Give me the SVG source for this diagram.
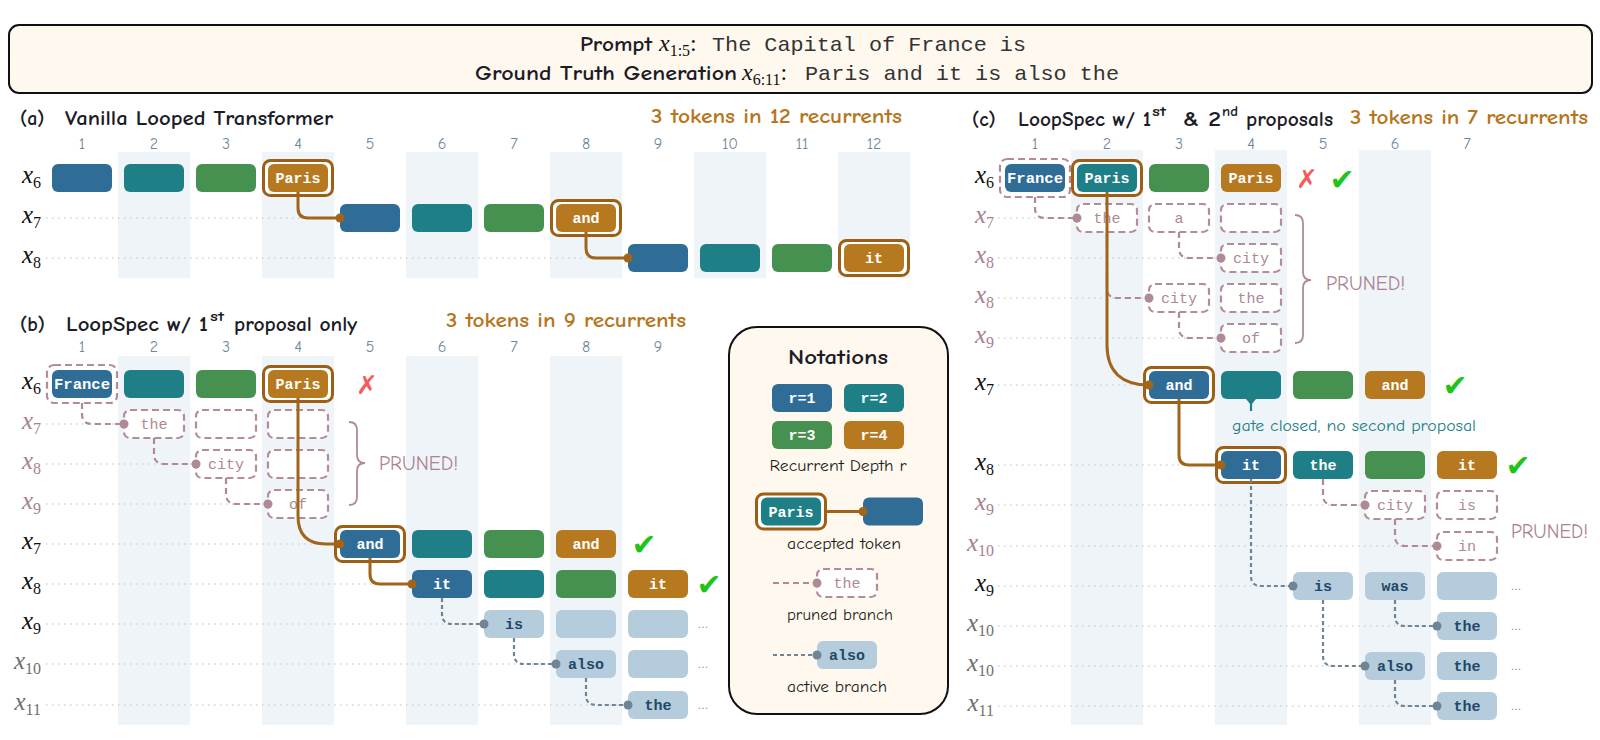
<svg xmlns="http://www.w3.org/2000/svg" width="1600" height="740" viewBox="0 0 1600 740">
<style>
.bg{fill:#fff}
.band{fill:#eff4f8}
.b1{fill:#2f6d97}.b2{fill:#1f7f86}.b3{fill:#46914f}.b4{fill:#b7791f}
.act{fill:#b4ccdb}
.acc{fill:#fff;stroke:#9c5f14;stroke-width:3}
.pr{fill:#fff;stroke:#b48c99;stroke-width:2.2;stroke-dasharray:7 4}
.cm{font-family:'Comic Sans MS','Comic Neue','Noto Sans',sans-serif}
.ttl{font-size:20px;font-weight:bold;fill:#1c1c28}
.sup{font-size:13px;font-weight:bold;fill:#1c1c28}
.org{font-size:20px;font-weight:bold;fill:#b5761d}
.num{font-size:16px;fill:#71889a;text-anchor:middle}
.tw{font-family:'Liberation Mono',monospace;font-weight:bold;font-size:15px;fill:#fff;text-anchor:middle}
.tp{font-family:'Liberation Mono',monospace;font-size:15px;fill:#ad8895;text-anchor:middle}
.ta{font-family:'Liberation Mono',monospace;font-weight:bold;font-size:15px;fill:#1f4868;text-anchor:middle}
.ml{font-family:'Liberation Serif',serif;font-style:italic;font-size:25px;text-anchor:end}
.sb{font-style:normal;font-size:16px}
.k{fill:#111}.m{fill:#a8818f}.g{fill:#6f6f6f}
.guide{stroke:#cdd5db;stroke-width:1.3;stroke-dasharray:1.5 4.5;fill:none}
.ca{fill:none;stroke:#a0651a;stroke-width:3}
.cp{fill:none;stroke:#b08996;stroke-width:2.2;stroke-dasharray:6 4}
.cv{fill:none;stroke:#6f8595;stroke-width:2.2;stroke-dasharray:4 3}
.da{fill:#a0651a}.dp{fill:#b08996}.dv{fill:#6f8595}
.brace{fill:none;stroke:#b08996;stroke-width:1.8}
.prn{font-size:20px;fill:#a9838f}
.ok{font-family:'DejaVu Sans',sans-serif;font-size:30px;fill:#1fc41a;text-anchor:middle}
.no{font-family:'DejaVu Sans',sans-serif;font-size:26px;fill:#f25c5c;text-anchor:middle}
.dots{font-family:'DejaVu Sans',sans-serif;font-size:11px;fill:#8899a6;text-anchor:middle}
.mono{font-family:'Liberation Mono',monospace;font-size:21px;fill:#333}
.nt{font-size:16px;fill:#1c1c1c;text-anchor:middle}
</style>
<rect class="bg" x="0" y="0" width="1600" height="740"/>

<!-- header -->
<g id="header">
<rect x="9" y="25" width="1583" height="68" rx="10" fill="#fff8ee" stroke="#111" stroke-width="2"/>
<text class="cm ttl" x="580" y="51" textLength="72" lengthAdjust="spacingAndGlyphs" fill="#111">Prompt</text>
<text font-family="'Liberation Serif',serif" font-size="24" fill="#111" x="659" y="51"><tspan font-style="italic">x</tspan><tspan font-size="16" dy="5">1:5</tspan><tspan dy="-5">:</tspan></text>
<text class="mono" x="712" y="51" textLength="314" lengthAdjust="spacingAndGlyphs">The Capital of France is</text>
<text class="cm ttl" x="475" y="80" textLength="262" lengthAdjust="spacingAndGlyphs" fill="#111">Ground Truth Generation</text>
<text font-family="'Liberation Serif',serif" font-size="24" fill="#111" x="742" y="80"><tspan font-style="italic">x</tspan><tspan font-size="16" dy="5">6:11</tspan><tspan dy="-5">:</tspan></text>
<text class="mono" x="805" y="80" textLength="314" lengthAdjust="spacingAndGlyphs">Paris and it is also the</text>
</g>

<!-- bands -->
<g id="bands">
<rect class="band" x="118" y="152" width="72" height="126"/>
<rect class="band" x="262" y="152" width="72" height="126"/>
<rect class="band" x="406" y="152" width="72" height="126"/>
<rect class="band" x="550" y="152" width="72" height="126"/>
<rect class="band" x="694" y="152" width="72" height="126"/>
<rect class="band" x="838" y="152" width="72" height="126"/>
<rect class="band" x="118" y="356" width="72" height="369"/>
<rect class="band" x="262" y="356" width="72" height="369"/>
<rect class="band" x="406" y="356" width="72" height="369"/>
<rect class="band" x="550" y="356" width="72" height="369"/>
<rect class="band" x="1071" y="150" width="72" height="575"/>
<rect class="band" x="1215" y="150" width="72" height="575"/>
<rect class="band" x="1359" y="150" width="72" height="575"/>
</g>

<!-- guides -->
<g id="guides">
<path class="guide" d="M46 218H338M46 258H626"/>
<path class="guide" d="M46 424H122M46 464H194M46 504H266M46 544H334M46 584H410M46 624H482M46 664H554M46 705H626"/>
<path class="guide" d="M998 218H1075M998 258H1219M998 298H1147M998 338H1219M998 385H1143M998 465H1215M998 505H1363M998 546H1435M998 586H1291M998 626H1435M998 666H1363M998 706H1435"/>
</g>

<!-- panel a -->
<g id="panel-a">
<text class="cm ttl" x="20" y="125">(a)</text>
<text class="cm ttl" x="65" y="125" textLength="268" lengthAdjust="spacingAndGlyphs">Vanilla Looped Transformer</text>
<text class="cm org" x="651" y="123" textLength="251" lengthAdjust="spacingAndGlyphs">3 tokens in 12 recurrents</text>
<g class="cm num">
<text x="82" y="149">1</text><text x="154" y="149">2</text><text x="226" y="149">3</text><text x="298" y="149">4</text><text x="370" y="149">5</text><text x="442" y="149">6</text><text x="514" y="149">7</text><text x="586" y="149">8</text><text x="658" y="149">9</text><text x="730" y="149">10</text><text x="802" y="149">11</text><text x="874" y="149">12</text>
</g>
<text class="ml k" x="41" y="183">x<tspan class="sb" dy="5">6</tspan></text>
<text class="ml k" x="41" y="223">x<tspan class="sb" dy="5">7</tspan></text>
<text class="ml k" x="41" y="263">x<tspan class="sb" dy="5">8</tspan></text>
</g>
<g id="a-x6-r1"><rect class="b1" x="52" y="164" width="60" height="28" rx="6"/></g>
<g id="a-x6-r2"><rect class="b2" x="124" y="164" width="60" height="28" rx="6"/></g>
<g id="a-x6-r3"><rect class="b3" x="196" y="164" width="60" height="28" rx="6"/></g>
<g id="a-x6-r4"><rect class="acc" x="263.5" y="160.5" width="69" height="35" rx="7"/><rect class="b4" x="268" y="164" width="60" height="28" rx="6"/><text class="tw" x="298" y="183">Paris</text></g>
<g id="a-x7-r1"><rect class="b1" x="340" y="204" width="60" height="28" rx="6"/></g>
<g id="a-x7-r2"><rect class="b2" x="412" y="204" width="60" height="28" rx="6"/></g>
<g id="a-x7-r3"><rect class="b3" x="484" y="204" width="60" height="28" rx="6"/></g>
<g id="a-x7-r4"><rect class="acc" x="551.5" y="200.5" width="69" height="35" rx="7"/><rect class="b4" x="556" y="204" width="60" height="28" rx="6"/><text class="tw" x="586" y="223">and</text></g>
<g id="a-x8-r1"><rect class="b1" x="628" y="244" width="60" height="28" rx="6"/></g>
<g id="a-x8-r2"><rect class="b2" x="700" y="244" width="60" height="28" rx="6"/></g>
<g id="a-x8-r3"><rect class="b3" x="772" y="244" width="60" height="28" rx="6"/></g>
<g id="a-x8-r4"><rect class="acc" x="839.5" y="240.5" width="69" height="35" rx="7"/><rect class="b4" x="844" y="244" width="60" height="28" rx="6"/><text class="tw" x="874" y="263">it</text></g>

<!-- panel b -->
<g id="panel-b">
<text class="cm ttl" x="20" y="331">(b)</text>
<text class="cm ttl" x="66" y="331" textLength="142" lengthAdjust="spacingAndGlyphs">LoopSpec w/ 1</text>
<text class="cm sup" x="210" y="321" textLength="14" lengthAdjust="spacingAndGlyphs">st</text>
<text class="cm ttl" x="234" y="331" textLength="123" lengthAdjust="spacingAndGlyphs">proposal only</text>
<text class="cm org" x="446" y="327" textLength="240" lengthAdjust="spacingAndGlyphs">3 tokens in 9 recurrents</text>
<g class="cm num">
<text x="82" y="352">1</text><text x="154" y="352">2</text><text x="226" y="352">3</text><text x="298" y="352">4</text><text x="370" y="352">5</text><text x="442" y="352">6</text><text x="514" y="352">7</text><text x="586" y="352">8</text><text x="658" y="352">9</text>
</g>
<text class="ml k" x="41" y="389">x<tspan class="sb" dy="5">6</tspan></text>
<text class="ml m" x="41" y="429">x<tspan class="sb" dy="5">7</tspan></text>
<text class="ml m" x="41" y="469">x<tspan class="sb" dy="5">8</tspan></text>
<text class="ml m" x="41" y="509">x<tspan class="sb" dy="5">9</tspan></text>
<text class="ml k" x="41" y="549">x<tspan class="sb" dy="5">7</tspan></text>
<text class="ml k" x="41" y="589">x<tspan class="sb" dy="5">8</tspan></text>
<text class="ml k" x="41" y="629">x<tspan class="sb" dy="5">9</tspan></text>
<text class="ml g" x="41" y="669">x<tspan class="sb" dy="5">10</tspan></text>
<text class="ml g" x="41" y="710">x<tspan class="sb" dy="5">11</tspan></text>
<text class="no" x="367" y="394">✗</text>
<text class="ok" x="644" y="555">✔</text>
<text class="ok" x="709" y="595">✔</text>
<text class="dots" x="703" y="628">...</text>
<text class="dots" x="703" y="668">...</text>
<text class="dots" x="703" y="709">...</text>
<path class="brace" d="M349 422Q357 422 357 430V455Q357 463 365 463Q357 463 357 471V497Q357 505 349 505"/>
<text class="cm prn" x="379" y="470" textLength="79" lengthAdjust="spacingAndGlyphs">PRUNED!</text>
</g>
<g id="b-x7p-the"><rect class="pr" x="124" y="410" width="60" height="28" rx="6"/><text class="tp" x="154" y="429">the</text></g>
<g id="b-x7p-3"><rect class="pr" x="196" y="410" width="60" height="28" rx="6"/></g>
<g id="b-x7p-4"><rect class="pr" x="268" y="410" width="60" height="28" rx="6"/></g>
<g id="b-x8p-city"><rect class="pr" x="196" y="450" width="60" height="28" rx="6"/><text class="tp" x="226" y="469">city</text></g>
<g id="b-x8p-4"><rect class="pr" x="268" y="450" width="60" height="28" rx="6"/></g>
<g id="b-x9p-of"><rect class="pr" x="268" y="490" width="60" height="28" rx="6"/><text class="tp" x="298" y="509">of</text></g>
<g id="b-x6-france"><rect class="pr" x="47" y="365" width="70" height="38" rx="7"/><rect class="b1" x="52" y="370" width="60" height="28" rx="6"/><text class="tw" x="82" y="389" textLength="56" lengthAdjust="spacingAndGlyphs">France</text></g>
<g id="b-x6-r2"><rect class="b2" x="124" y="370" width="60" height="28" rx="6"/></g>
<g id="b-x6-r3"><rect class="b3" x="196" y="370" width="60" height="28" rx="6"/></g>
<g id="b-x6-paris"><rect class="acc" x="263.5" y="366.5" width="69" height="35" rx="7"/><rect class="b4" x="268" y="370" width="60" height="28" rx="6"/><text class="tw" x="298" y="389">Paris</text></g>
<g id="b-x7-and"><rect class="acc" x="335.5" y="526.5" width="69" height="35" rx="7"/><rect class="b1" x="340" y="530" width="60" height="28" rx="6"/><text class="tw" x="370" y="549">and</text></g>
<g id="b-x7-r2"><rect class="b2" x="412" y="530" width="60" height="28" rx="6"/></g>
<g id="b-x7-r3"><rect class="b3" x="484" y="530" width="60" height="28" rx="6"/></g>
<g id="b-x7-r4"><rect class="b4" x="556" y="530" width="60" height="28" rx="6"/><text class="tw" x="586" y="549">and</text></g>
<g id="b-x8-it"><rect class="b1" x="412" y="570" width="60" height="28" rx="6"/><text class="tw" x="442" y="589">it</text></g>
<g id="b-x8-r2"><rect class="b2" x="484" y="570" width="60" height="28" rx="6"/></g>
<g id="b-x8-r3"><rect class="b3" x="556" y="570" width="60" height="28" rx="6"/></g>
<g id="b-x8-r4"><rect class="b4" x="628" y="570" width="60" height="28" rx="6"/><text class="tw" x="658" y="589">it</text></g>
<g id="b-x9-is"><rect class="act" x="484" y="610" width="60" height="28" rx="6"/><text class="ta" x="514" y="629">is</text></g>
<g id="b-x9-8"><rect class="act" x="556" y="610" width="60" height="28" rx="6"/></g>
<g id="b-x9-9"><rect class="act" x="628" y="610" width="60" height="28" rx="6"/></g>
<g id="b-x10-also"><rect class="act" x="556" y="650" width="60" height="28" rx="6"/><text class="ta" x="586" y="669">also</text></g>
<g id="b-x10-9"><rect class="act" x="628" y="650" width="60" height="28" rx="6"/></g>
<g id="b-x11-the"><rect class="act" x="628" y="691" width="60" height="28" rx="6"/><text class="ta" x="658" y="710">the</text></g>

<!-- notations -->
<g id="notations">
<rect x="729" y="327" width="219" height="387" rx="28" fill="#fff8ee" stroke="#111" stroke-width="2"/>
<text class="cm ttl" x="838" y="364" text-anchor="middle" font-size="22" textLength="100" lengthAdjust="spacingAndGlyphs" fill="#111">Notations</text>
<rect class="b1" x="772" y="384" width="60" height="28" rx="6"/><text class="tw" x="802" y="403">r=1</text>
<rect class="b2" x="844" y="384" width="60" height="28" rx="6"/><text class="tw" x="874" y="403">r=2</text>
<rect class="b3" x="772" y="421" width="60" height="28" rx="6"/><text class="tw" x="802" y="440">r=3</text>
<rect class="b4" x="844" y="421" width="60" height="28" rx="6"/><text class="tw" x="874" y="440">r=4</text>
<text class="cm nt" x="838" y="471" textLength="137" lengthAdjust="spacingAndGlyphs">Recurrent Depth r</text>
<path class="ca" d="M827 511.5H863"/>
<rect class="acc" x="756.5" y="494" width="69" height="35" rx="7"/><rect class="b2" x="761" y="497.5" width="60" height="28" rx="6"/><text class="tw" x="791" y="516.5">Paris</text>
<rect class="b1" x="863" y="497.5" width="60" height="28" rx="6"/>
<circle class="da" cx="863" cy="511.5" r="4.5"/>
<text class="cm nt" x="844" y="549" textLength="114" lengthAdjust="spacingAndGlyphs">accepted token</text>
<path class="cp" d="M773 583H817"/>
<rect class="pr" x="817" y="569" width="60" height="28" rx="6"/><text class="tp" x="847" y="588">the</text>
<circle class="dp" cx="817" cy="583" r="4.5"/>
<text class="cm nt" x="840" y="620" textLength="106" lengthAdjust="spacingAndGlyphs">pruned branch</text>
<path class="cv" d="M773 655H817"/>
<rect class="act" x="817" y="641" width="60" height="28" rx="6"/><text class="ta" x="847" y="660">also</text>
<circle class="dv" cx="817" cy="655" r="4.5"/>
<text class="cm nt" x="837" y="692" textLength="100" lengthAdjust="spacingAndGlyphs">active branch</text>
</g>

<!-- panel c -->
<g id="panel-c">
<text class="cm ttl" x="972" y="126">(c)</text>
<text class="cm ttl" x="1018" y="126" textLength="133" lengthAdjust="spacingAndGlyphs">LoopSpec w/ 1</text>
<text class="cm sup" x="1152" y="116" textLength="14" lengthAdjust="spacingAndGlyphs">st</text>
<text class="cm ttl" x="1183" y="126" textLength="38" lengthAdjust="spacingAndGlyphs">&amp; 2</text>
<text class="cm sup" x="1222" y="116" textLength="16" lengthAdjust="spacingAndGlyphs">nd</text>
<text class="cm ttl" x="1246" y="126" textLength="87" lengthAdjust="spacingAndGlyphs">proposals</text>
<text class="cm org" x="1350" y="124" textLength="238" lengthAdjust="spacingAndGlyphs">3 tokens in 7 recurrents</text>
<g class="cm num">
<text x="1035" y="149">1</text><text x="1107" y="149">2</text><text x="1179" y="149">3</text><text x="1251" y="149">4</text><text x="1323" y="149">5</text><text x="1395" y="149">6</text><text x="1467" y="149">7</text>
</g>
<text class="ml k" x="994" y="183">x<tspan class="sb" dy="5">6</tspan></text>
<text class="ml m" x="994" y="223">x<tspan class="sb" dy="5">7</tspan></text>
<text class="ml m" x="994" y="263">x<tspan class="sb" dy="5">8</tspan></text>
<text class="ml m" x="994" y="303">x<tspan class="sb" dy="5">8</tspan></text>
<text class="ml m" x="994" y="343">x<tspan class="sb" dy="5">9</tspan></text>
<text class="ml k" x="994" y="390">x<tspan class="sb" dy="5">7</tspan></text>
<text class="ml k" x="994" y="470">x<tspan class="sb" dy="5">8</tspan></text>
<text class="ml m" x="994" y="510">x<tspan class="sb" dy="5">9</tspan></text>
<text class="ml m" x="994" y="551">x<tspan class="sb" dy="5">10</tspan></text>
<text class="ml k" x="994" y="591">x<tspan class="sb" dy="5">9</tspan></text>
<text class="ml g" x="994" y="631">x<tspan class="sb" dy="5">10</tspan></text>
<text class="ml g" x="994" y="671">x<tspan class="sb" dy="5">10</tspan></text>
<text class="ml g" x="994" y="711">x<tspan class="sb" dy="5">11</tspan></text>
<text class="no" x="1307" y="188">✗</text>
<text class="ok" x="1342" y="190">✔</text>
<text class="ok" x="1455" y="396">✔</text>
<text class="ok" x="1518" y="476">✔</text>
<text class="dots" x="1516" y="590">...</text>
<text class="dots" x="1516" y="630">...</text>
<text class="dots" x="1516" y="670">...</text>
<text class="dots" x="1516" y="710">...</text>
<path class="brace" d="M1295 215Q1303 215 1303 223V272Q1303 280 1311 280Q1303 280 1303 288V335Q1303 343 1295 343"/>
<text class="cm prn" x="1326" y="290" textLength="79" lengthAdjust="spacingAndGlyphs">PRUNED!</text>
<text class="cm prn" x="1511" y="538" textLength="77" lengthAdjust="spacingAndGlyphs">PRUNED!</text>
<text class="cm" x="1354" y="431" text-anchor="middle" font-size="15" fill="#217e86" textLength="244" lengthAdjust="spacingAndGlyphs">gate closed, no second proposal</text>
</g>
<g id="c-x7p-the"><rect class="pr" x="1077" y="204" width="60" height="28" rx="6"/><text class="tp" x="1107" y="223">the</text></g>
<g id="c-x7p-a"><rect class="pr" x="1149" y="204" width="60" height="28" rx="6"/><text class="tp" x="1179" y="223">a</text></g>
<g id="c-x7p-4"><rect class="pr" x="1221" y="204" width="60" height="28" rx="6"/></g>
<g id="c-x8p-city"><rect class="pr" x="1221" y="244" width="60" height="28" rx="6"/><text class="tp" x="1251" y="263">city</text></g>
<g id="c-x8p2-city"><rect class="pr" x="1149" y="284" width="60" height="28" rx="6"/><text class="tp" x="1179" y="303">city</text></g>
<g id="c-x8p2-the"><rect class="pr" x="1221" y="284" width="60" height="28" rx="6"/><text class="tp" x="1251" y="303">the</text></g>
<g id="c-x9p-of"><rect class="pr" x="1221" y="324" width="60" height="28" rx="6"/><text class="tp" x="1251" y="343">of</text></g>
<g id="c-x9p-city"><rect class="pr" x="1365" y="491" width="60" height="28" rx="6"/><text class="tp" x="1395" y="510">city</text></g>
<g id="c-x9p-is"><rect class="pr" x="1437" y="491" width="60" height="28" rx="6"/><text class="tp" x="1467" y="510">is</text></g>
<g id="c-x10p-in"><rect class="pr" x="1437" y="532" width="60" height="28" rx="6"/><text class="tp" x="1467" y="551">in</text></g>
<g id="c-x6-france"><rect class="pr" x="1000" y="159" width="70" height="38" rx="7"/><rect class="b1" x="1005" y="164" width="60" height="28" rx="6"/><text class="tw" x="1035" y="183" textLength="56" lengthAdjust="spacingAndGlyphs">France</text></g>
<g id="c-x6-paris"><rect class="acc" x="1072.5" y="160.5" width="69" height="35" rx="7"/><rect class="b2" x="1077" y="164" width="60" height="28" rx="6"/><text class="tw" x="1107" y="183">Paris</text></g>
<g id="c-x6-r3"><rect class="b3" x="1149" y="164" width="60" height="28" rx="6"/></g>
<g id="c-x6-r4"><rect class="b4" x="1221" y="164" width="60" height="28" rx="6"/><text class="tw" x="1251" y="183">Paris</text></g>
<g id="c-x7-and"><rect class="acc" x="1144.5" y="367.5" width="69" height="35" rx="7"/><rect class="b1" x="1149" y="371" width="60" height="28" rx="6"/><text class="tw" x="1179" y="390">and</text></g>
<g id="c-x7-gate"><rect class="b2" x="1221" y="371" width="60" height="28" rx="6"/><path d="M1251 399V411" stroke="#1f7f86" stroke-width="2.2"/><path d="M1246 399H1256L1251 405Z" fill="#1f7f86"/></g>
<g id="c-x7-r3"><rect class="b3" x="1293" y="371" width="60" height="28" rx="6"/></g>
<g id="c-x7-r4"><rect class="b4" x="1365" y="371" width="60" height="28" rx="6"/><text class="tw" x="1395" y="390">and</text></g>
<g id="c-x8-it"><rect class="acc" x="1216.5" y="447.5" width="69" height="35" rx="7"/><rect class="b1" x="1221" y="451" width="60" height="28" rx="6"/><text class="tw" x="1251" y="470">it</text></g>
<g id="c-x8-the"><rect class="b2" x="1293" y="451" width="60" height="28" rx="6"/><text class="tw" x="1323" y="470">the</text></g>
<g id="c-x8-r3"><rect class="b3" x="1365" y="451" width="60" height="28" rx="6"/></g>
<g id="c-x8-r4"><rect class="b4" x="1437" y="451" width="60" height="28" rx="6"/><text class="tw" x="1467" y="470">it</text></g>
<g id="c-x9-is"><rect class="act" x="1293" y="572" width="60" height="28" rx="6"/><text class="ta" x="1323" y="591">is</text></g>
<g id="c-x9-was"><rect class="act" x="1365" y="572" width="60" height="28" rx="6"/><text class="ta" x="1395" y="591">was</text></g>
<g id="c-x9-7"><rect class="act" x="1437" y="572" width="60" height="28" rx="6"/></g>
<g id="c-x10-the"><rect class="act" x="1437" y="612" width="60" height="28" rx="6"/><text class="ta" x="1467" y="631">the</text></g>
<g id="c-x10b-also"><rect class="act" x="1365" y="652" width="60" height="28" rx="6"/><text class="ta" x="1395" y="671">also</text></g>
<g id="c-x10b-the"><rect class="act" x="1437" y="652" width="60" height="28" rx="6"/><text class="ta" x="1467" y="671">the</text></g>
<g id="c-x11-the"><rect class="act" x="1437" y="692" width="60" height="28" rx="6"/><text class="ta" x="1467" y="711">the</text></g>

<!-- connectors -->
<g id="connectors">
<path class="ca" d="M298 192V208Q298 218 308 218H340"/>
<path class="ca" d="M586 232V248Q586 258 596 258H628"/>
<path class="cp" d="M82 403V414Q82 424 92 424H124"/>
<path class="cp" d="M154 438V454Q154 464 164 464H196"/>
<path class="cp" d="M226 478V494Q226 504 236 504H268"/>
<path class="ca" d="M298 398V516Q298 544 326 544H340"/>
<path class="ca" d="M370 558V574Q370 584 380 584H412"/>
<path class="cv" d="M442 598V614Q442 624 452 624H484"/>
<path class="cv" d="M514 638V654Q514 664 524 664H556"/>
<path class="cv" d="M586 678V695Q586 705 596 705H628"/>
<path class="cp" d="M1035 197V208Q1035 218 1045 218H1077"/>
<path class="cp" d="M1179 232V248Q1179 258 1189 258H1221"/>
<path class="cp" d="M1107 232V288Q1107 298 1117 298H1149"/>
<path class="cp" d="M1179 312V328Q1179 338 1189 338H1221"/>
<path class="cp" d="M1323 479V495Q1323 505 1333 505H1365"/>
<path class="cp" d="M1395 519V536Q1395 546 1405 546H1437"/>
<path class="ca" d="M1107 192V345C1107 372 1122 385 1149 385"/>
<path class="ca" d="M1179 399V455Q1179 465 1189 465H1221"/>
<path class="cv" d="M1251 479V576Q1251 586 1261 586H1293"/>
<path class="cv" d="M1395 600V616Q1395 626 1405 626H1437"/>
<path class="cv" d="M1323 600V656Q1323 666 1333 666H1365"/>
<path class="cv" d="M1395 680V696Q1395 706 1405 706H1437"/>
<g class="da">
<circle cx="340" cy="218" r="4.5"/><circle cx="628" cy="258" r="4.5"/><circle cx="340" cy="544" r="4.5"/><circle cx="412" cy="584" r="4.5"/><circle cx="1149" cy="385" r="4.5"/><circle cx="1221" cy="465" r="4.5"/>
</g>
<g class="dp">
<circle cx="124" cy="424" r="4.5"/><circle cx="196" cy="464" r="4.5"/><circle cx="268" cy="504" r="4.5"/><circle cx="1077" cy="218" r="4.5"/><circle cx="1221" cy="258" r="4.5"/><circle cx="1149" cy="298" r="4.5"/><circle cx="1221" cy="338" r="4.5"/><circle cx="1365" cy="505" r="4.5"/><circle cx="1437" cy="546" r="4.5"/>
</g>
<g class="dv">
<circle cx="484" cy="624" r="4.5"/><circle cx="556" cy="664" r="4.5"/><circle cx="628" cy="705" r="4.5"/><circle cx="1293" cy="586" r="4.5"/><circle cx="1437" cy="626" r="4.5"/><circle cx="1365" cy="666" r="4.5"/><circle cx="1437" cy="706" r="4.5"/>
</g>
</g>
</svg>
